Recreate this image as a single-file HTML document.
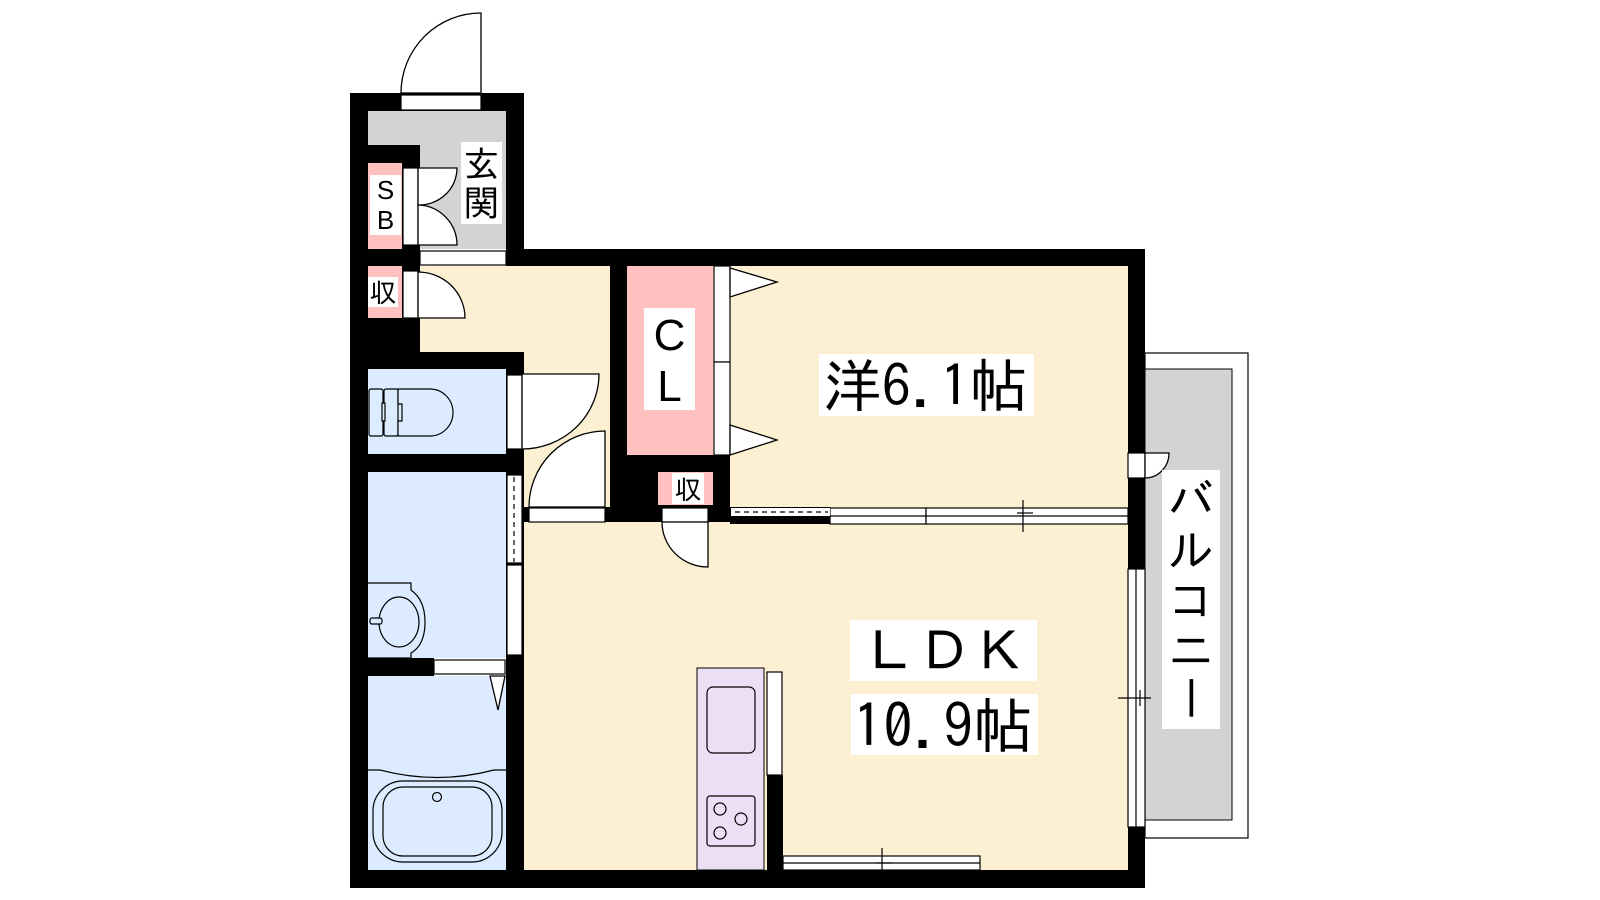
<!DOCTYPE html>
<html><head><meta charset="utf-8"><style>
html,body{margin:0;padding:0;background:#fff;}
svg{display:block;}
text{font-family:"IPAGothic","Noto Sans CJK JP",sans-serif;fill:#000;}
.l{font-family:"Liberation Sans",sans-serif;}
</style></head><body>
<svg width="1600" height="900" viewBox="0 0 1600 900" xmlns="http://www.w3.org/2000/svg">
<rect width="1600" height="900" fill="#fff"/>
<!-- balcony -->
<rect x="1145" y="353" width="103" height="485" fill="#fff" stroke="#000" stroke-width="1.2"/>
<rect x="1145" y="369" width="87" height="451" fill="#d3d3d3" stroke="#000" stroke-width="1"/>
<!-- room fills -->
<rect x="368" y="111" width="138" height="138" fill="#d3d3d3"/>
<rect x="420" y="266" width="190" height="86" fill="#fdf0d2"/>
<rect x="524" y="352" width="86" height="160" fill="#fdf0d2"/>
<rect x="627" y="266" width="501" height="241" fill="#fdf0d2"/>
<rect x="524" y="507" width="604" height="363" fill="#fdf0d2"/>
<rect x="368" y="369" width="138" height="85" fill="#dcebff"/>
<rect x="368" y="472" width="138" height="186" fill="#dcebff"/>
<rect x="368" y="676" width="138" height="194" fill="#dcebff"/>
<rect x="627" y="266" width="86" height="189" fill="#ffc0c0"/>
<!-- walls -->
<g fill="#000">
<rect x="350" y="93" width="174" height="18"/>
<rect x="350" y="93" width="18" height="795"/>
<rect x="506" y="93" width="18" height="173"/>
<rect x="506" y="249" width="639" height="17"/>
<rect x="1128" y="249" width="17" height="639"/>
<rect x="350" y="870" width="795" height="18"/>
<rect x="350" y="145" width="70" height="18"/>
<rect x="402" y="145" width="18" height="224"/>
<rect x="350" y="249" width="70" height="17"/>
<rect x="350" y="266" width="70" height="103"/>
<rect x="350" y="352" width="174" height="17"/>
<rect x="506" y="352" width="18" height="122"/>
<rect x="350" y="454" width="174" height="18"/>
<rect x="506" y="472" width="18" height="398"/>
<rect x="350" y="658" width="84" height="18"/>
<rect x="610" y="266" width="17" height="256"/>
<rect x="524" y="507" width="206" height="15"/>
<rect x="610" y="455" width="120" height="67"/>
<rect x="730" y="507" width="100" height="17"/>
<rect x="767" y="775" width="16" height="95"/>
</g>
<!-- pink storage -->
<rect x="368" y="163" width="34" height="86" fill="#ffc0c0"/>
<rect x="368" y="266" width="34" height="52" fill="#ffc0c0"/>
<rect x="658" y="472" width="55" height="33" fill="#ffc0c0"/>
<!-- openings / frames -->
<g fill="#fff" stroke="#000" stroke-width="1.2">
<rect x="401" y="95" width="80" height="15"/>
<rect x="403" y="168" width="15" height="77"/>
<rect x="420" y="251" width="86" height="14"/>
<rect x="403" y="271" width="15" height="47"/>
<rect x="507" y="375" width="15" height="74"/>
<rect x="507" y="565" width="15" height="90"/>
<rect x="434" y="660" width="71" height="14"/>
<rect x="529" y="508" width="76" height="14"/>
<rect x="662" y="508" width="46" height="14"/>
<rect x="714" y="266" width="16" height="96"/>
<rect x="714" y="362" width="16" height="93"/>
<rect x="1128" y="453" width="17" height="25"/>
<rect x="1128" y="569" width="17" height="258"/>
<rect x="830" y="508" width="96" height="16"/>
<rect x="926" y="508" width="202" height="16"/>
<rect x="783" y="856" width="197" height="14"/>
<rect x="767" y="672" width="15" height="103"/>
</g>
<rect x="507" y="475" width="15" height="88" fill="#fff" stroke="#000" stroke-width="1.2"/>
<line x1="514" y1="477" x2="514" y2="562" stroke="#000" stroke-width="1.2" stroke-dasharray="5,4"/>
<rect x="731" y="508" width="99" height="8" fill="#fff"/>
<line x1="735" y1="512" x2="828" y2="512" stroke="#000" stroke-width="1.2" stroke-dasharray="5,4"/>
<g stroke="#000" stroke-width="1.2" fill="none">
<line x1="1136" y1="569" x2="1136" y2="827"/>
<line x1="830" y1="516" x2="1128" y2="516"/>
<line x1="783" y1="863" x2="980" y2="863"/>
<line x1="1023" y1="500" x2="1023" y2="532"/><line x1="1017" y1="513" x2="1033" y2="513"/>
<line x1="1118" y1="698" x2="1151" y2="698"/><line x1="1140" y1="690" x2="1140" y2="706"/>
<line x1="882" y1="848" x2="882" y2="880"/><line x1="876" y1="863" x2="892" y2="863"/>
</g>
<!-- door leaves -->
<g stroke="#000" stroke-width="1.3" fill="#fff">
<path d="M481,93 L481,13 A80,80 0 0 0 401,93 Z"/>
<path d="M418,168 L457,168 A38,37 0 0 1 418,205 Z"/>
<path d="M418,205 A40,40 0 0 1 457,245 L418,245 Z"/>
<path d="M418,272 A47,46 0 0 1 465,318 L418,318 Z"/>
<path d="M522,374 L599,374 A77,75 0 0 1 522,449 Z"/>
<path d="M605,507 L605,431 A76,76 0 0 0 529,507 Z"/>
<path d="M708,522 L708,567 A46,45 0 0 1 662,522 Z"/>
<path d="M1145,453 L1169,453 A24,25 0 0 1 1145,478 Z"/>
<path d="M730,268 L777,282 L730,297 Z"/>
<path d="M730,425 L777,440 L730,455 Z"/>
<path d="M490,676 L498,710 L505,676 Z"/>
</g>
<!-- toilet -->
<g stroke="#000" stroke-width="1.2" fill="#dcebff">
<rect x="369" y="389" width="14" height="47" rx="2"/>
<rect x="384" y="389" width="14" height="47" rx="2"/>
<rect x="382" y="403" width="3" height="18"/>
<path d="M398,389 L430,389 A23,23.5 0 0 1 430,436 L398,436 L398,421 L402,421 L402,404 L398,404 Z"/>
</g>
<!-- sink -->
<g stroke="#000" stroke-width="1.2" fill="#dcebff">
<path d="M368,583 L411,583 L411,590 Q425,600 425,622 Q425,645 411,653 L411,658 L368,658"/>
<ellipse cx="399" cy="622" rx="20" ry="25"/>
<rect x="370" y="618" width="12" height="6" rx="2"/>
</g>
<!-- bath -->
<g stroke="#000" stroke-width="1.2" fill="none">
<path d="M368,770 L380,770 Q437,785 494,770 L506,770"/>
<rect x="373" y="781" width="129" height="81" rx="30"/>
<rect x="383" y="787" width="109" height="69" rx="20"/>
<circle cx="437" cy="797" r="4.5"/>
</g>
<!-- kitchen -->
<rect x="697" y="668" width="67" height="202" fill="#ecdff5" stroke="#000" stroke-width="1"/>
<g stroke="#000" stroke-width="1.2" fill="none">
<rect x="707" y="687" width="48" height="66" rx="6"/>
<rect x="707" y="796" width="48" height="50" rx="3"/>
<circle cx="720" cy="809" r="6"/><circle cx="741" cy="819" r="6"/><circle cx="720" cy="833" r="6"/>
</g>
<!-- labels -->
<rect x="461" y="142" width="41" height="82" fill="#fff"/>
<text x="481.5" y="177" font-size="36" text-anchor="middle">玄</text>
<text x="481.5" y="216" font-size="36" text-anchor="middle">関</text>
<rect x="370" y="175" width="31" height="60" fill="#fff"/>
<text class="l" x="385.5" y="199" font-size="26" text-anchor="middle">S</text>
<text class="l" x="385.5" y="229" font-size="26" text-anchor="middle">B</text>
<rect x="368" y="277" width="30" height="30" fill="#fff"/>
<text x="383" y="302" font-size="27" text-anchor="middle">収</text>
<rect x="672" y="473" width="32" height="31" fill="#fff"/>
<text x="688" y="499" font-size="27" text-anchor="middle">収</text>
<rect x="644" y="308" width="51" height="102" fill="#fff"/>
<text class="l" x="669.5" y="350" font-size="44" text-anchor="middle">C</text>
<text class="l" x="669.5" y="401" font-size="44" text-anchor="middle">L</text>
<rect x="819" y="354" width="215" height="62" fill="#fff"/>
<text x="823" y="407" font-size="58" textLength="205" lengthAdjust="spacingAndGlyphs">洋6.1帖</text>
<rect x="850" y="620" width="187" height="61" fill="#fff"/>
<text x="862" y="671" font-size="54" textLength="165" lengthAdjust="spacingAndGlyphs">ＬＤＫ</text>
<rect x="851" y="694" width="187" height="61" fill="#fff"/>
<text x="853" y="748" font-size="60" textLength="180" lengthAdjust="spacingAndGlyphs">10.9帖</text>
<rect x="1162" y="470" width="58" height="259" fill="#fff"/>
<text x="1191" y="517" font-size="46" text-anchor="middle">バ</text>
<text x="1191" y="567" font-size="46" text-anchor="middle">ル</text>
<text x="1191" y="617" font-size="46" text-anchor="middle">コ</text>
<text x="1191" y="667" font-size="46" text-anchor="middle">ニ</text>
<text x="0" y="0" font-size="46" text-anchor="middle" dominant-baseline="central" transform="translate(1191,698) rotate(90)">ー</text>
</svg>
</body></html>
